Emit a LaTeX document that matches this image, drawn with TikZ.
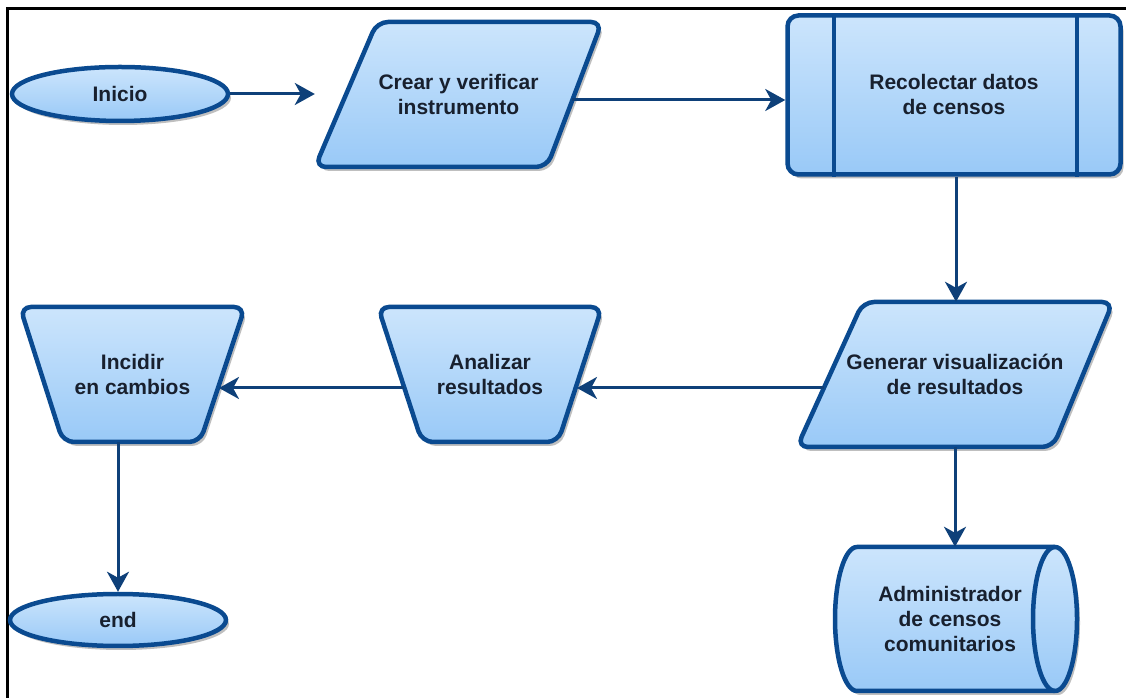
\documentclass[tikz,border=0pt]{standalone}
\usepackage{fontspec}
\setmainfont{Liberation Sans}
\usetikzlibrary{shadows,arrows.meta,shapes.geometric}
\definecolor{bordc}{HTML}{0A4A90}
\definecolor{arrc}{HTML}{0E4079}
\definecolor{filltop}{HTML}{CCE5FC}
\definecolor{fillbot}{HTML}{99C9F7}
\definecolor{txtc}{HTML}{18202E}
\begin{document}
\begin{tikzpicture}[x=1pt,y=1pt,
  shp/.style={draw=bordc, line width=4.5pt, top color=filltop, bottom color=fillbot,
    rounded corners=11pt,
    drop shadow={shadow xshift=3pt, shadow yshift=-4pt, opacity=0.25, fill=black}},
  txt/.style={font=\bfseries\fontsize{21}{25}\selectfont, text=txtc, align=center, inner sep=0pt},
  arr/.style={draw=arrc, line width=3pt, -{Stealth[length=20pt,width=22pt,inset=6pt]}}]
\useasboundingbox (0,0) rectangle (1126,698);
\fill[white] (0,0) rectangle (1126,698);
% frame
\draw[black, line width=3pt] (7.5,0) -- (7.5,689) -- (1126,689);

% Inicio
\node[shp, ellipse, minimum width=216pt, minimum height=54pt, txt] (inicio) at (120,604) {Inicio};

% Crear y verificar (parallelogram)
\draw[shp] (377,676) -- (602,676) -- (547,531) -- (315,531) -- cycle;
\node[txt, minimum width=287pt, minimum height=145pt] (crear) at (458.5,603.5) {Crear y verificar\\instrumento};

% Recolectar (predefined process)
\node[shp, rectangle, minimum width=333pt, minimum height=159pt, txt] (recolectar) at (954,603) {Recolectar datos\\de censos};
\draw[bordc, line width=4.5pt] ([xshift=-120pt]recolectar.north) -- ([xshift=-120pt]recolectar.south);
\draw[bordc, line width=4.5pt] ([xshift=123pt]recolectar.north) -- ([xshift=123pt]recolectar.south);

% Generar (parallelogram)
\draw[shp] (863,396) -- (1113,396) -- (1053,251) -- (797,251) -- cycle;
\node[txt, minimum width=316pt, minimum height=145pt] (generar) at (955,323.5) {Generar visualización\\de resultados};

% Analizar (trapezoid)
\draw[shp] (378,391) -- (602,391) -- (558,256) -- (422,256) -- cycle;
\node[txt, minimum width=224pt, minimum height=135pt] (analizar) at (490,323.5) {Analizar\\resultados};

% Incidir (trapezoid)
\draw[shp] (20,391) -- (245,391) -- (200,256) -- (63,256) -- cycle;
\node[txt, minimum width=225pt, minimum height=135pt] (incidir) at (132.5,323.5) {Incidir\\en cambios};

% end
\node[shp, ellipse, minimum width=216pt, minimum height=52pt, txt] (fin) at (118,78) {end};

% Administrador (cylinder)
\draw[shp, sharp corners] (857,151) -- (1055,151)
  arc[start angle=90, end angle=-90, x radius=22, y radius=72] -- (857,7)
  arc[start angle=270, end angle=90, x radius=22, y radius=72] -- cycle;
\draw[bordc, line width=4.5pt] (1055,151) arc[start angle=90, end angle=270, x radius=22, y radius=72];
\node[txt, minimum width=242pt, minimum height=144pt] (admin) at (950,79) {Administrador\\de censos\\comunitarios};

% connectors
\coordinate (crearR) at (572,598);
\coordinate (genL) at (824,310);
\coordinate (anaR) at (577,310);
\coordinate (anaL) at (404,310);
\coordinate (incR) at (219,310);
\draw[arr] (inicio.east) -- (inicio.east -| crear.west);
\draw[arr] (crearR) -- (crearR -| recolectar.west);
\draw[arr] ([xshift=2pt]recolectar.south) -- ([xshift=2pt]recolectar.south |- generar.north);
\draw[arr] (genL) -- (anaR);
\draw[arr] (anaL) -- (incR);
\draw[arr] (fin.north |- incidir.south) -- (fin.north);
\draw[arr] (generar.south) -- (generar.south |- admin.north);
\end{tikzpicture}
\end{document}
